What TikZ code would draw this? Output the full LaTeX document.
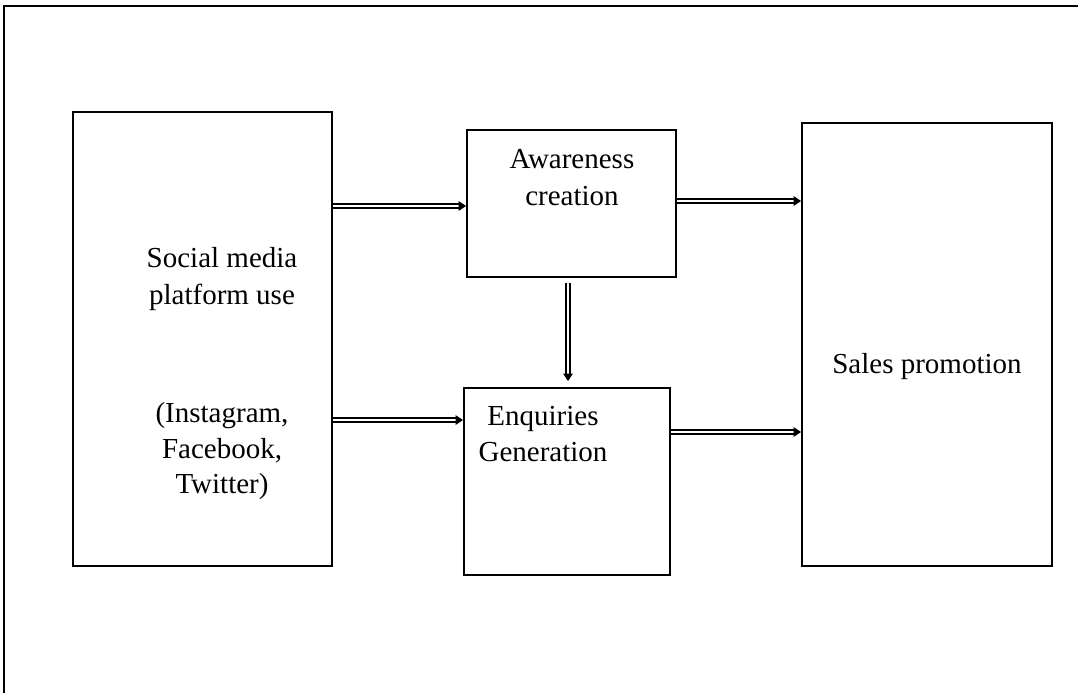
\documentclass[tikz,border=0pt]{standalone}
\usepackage{fontspec}
\setmainfont{Liberation Serif}
\usetikzlibrary{decorations.markings}
\begin{document}
\begin{tikzpicture}[x=1pt,y=-1pt,
  box/.style={draw=black,line width=2pt,inner sep=0pt},
  txt/.style={anchor=base,inner sep=0pt,font=\fontsize{29}{36}\selectfont},
  dbl/.style={draw=black,double=white,double distance=2.6pt,line width=1.5pt,shorten >=5pt,
    decoration={markings,mark=at position 1 with {\fill[black] (0pt,0pt) -- (-7.5pt,5pt) -- (-7.5pt,-5pt) -- cycle;}},
    postaction={decorate}},
  frame/.style={draw=black,line width=1.6pt}]
\useasboundingbox (0,0) rectangle (1078,693);
% outer frame (top and left only)
\coordinate (fTR) at (1078,6);
\coordinate (fTL) at (4,6);
\coordinate (fBL) at (4,693);
\draw[frame] (fTR) -- (fTL) -- (fBL);
% boxes
\node[box,minimum width=259pt,minimum height=454pt] (social) at (202.5,339) {};
\node[box,minimum width=209pt,minimum height=147pt] (aware) at (571.5,203.5) {};
\node[box,minimum width=206pt,minimum height=187pt] (enq) at (567,481.5) {};
\node[box,minimum width=250pt,minimum height=443pt] (sales) at (927,344.5) {};
% texts
\node[txt] (t1) at (222,267) {Social media};
\node[txt] (t2) at (222,304) {platform use};
\node[txt] (t3) at (222,422) {(Instagram,};
\node[txt] (t4) at (222,458) {Facebook,};
\node[txt] (t5) at (222,493) {Twitter)};
\node[txt] (t6) at (572,168) {Awareness};
\node[txt] (t7) at (572,205) {creation};
\node[txt] (t8) at (543,425) {Enquiries};
\node[txt] (t9) at (543,461) {Generation};
\node[txt] (t10) at (927,373) {Sales promotion};
% connector anchors
\coordinate (y1) at (0,206);
\coordinate (y2) at (0,420);
\coordinate (y3) at (0,201);
\coordinate (y4) at (0,432);
\coordinate (vS) at (568,283);
\coordinate (vE) at (568,381);
% connectors
\draw[dbl] (social.east |- y1) -- (aware.west |- y1);
\draw[dbl] (social.east |- y2) -- (enq.west |- y2);
\draw[dbl] (aware.east |- y3) -- (sales.west |- y3);
\draw[dbl] (enq.east |- y4) -- (sales.west |- y4);
\draw[dbl] (vS) -- (vE);
\end{tikzpicture}
\end{document}
